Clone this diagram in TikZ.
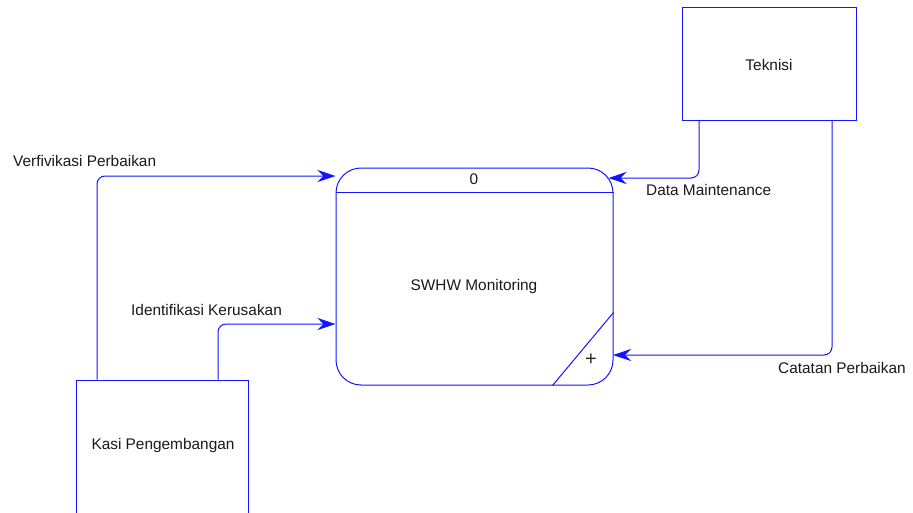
\documentclass[tikz,border=0pt]{standalone}
\usepackage{fontspec}
\setmainfont{Liberation Sans}
\usetikzlibrary{arrows.meta,calc}
\definecolor{dfdblue}{RGB}{20,20,255}
\tikzset{
  txt/.style={font=\fontsize{15.4}{18}\selectfont, inner sep=0pt, text=black!90},
  entity/.style={draw=dfdblue, line width=1pt, inner sep=0pt},
  procbox/.style={draw=dfdblue, line width=1pt, rounded corners=25pt, inner sep=0pt},
  flow/.style={draw=dfdblue, line width=1pt, rounded corners=8pt,
    -{Stealth[length=18pt, width=12pt, inset=6pt]}},
  thinline/.style={draw=dfdblue, line width=1pt}
}
\begin{document}
\begin{tikzpicture}[x=1pt, y=-1pt]
\useasboundingbox (0,0) rectangle (913,512);
% entities
\node[entity, minimum width=174pt, minimum height=113pt] (tek) at (769,63.5) {};
\node[txt] (tektext) at (769,65) {Teknisi};
\node[entity, minimum width=172pt, minimum height=150pt] (kasi) at (162.5,455) {};
\node[txt] (kasitext) at (163,446) {Kasi Pengembangan};
% process
\node[procbox, minimum width=277pt, minimum height=217pt] (proc) at (474.5,276.5) {};
\draw[thinline] (proc.west |- 0,192) -- (proc.east |- 0,192);
\draw[thinline] ([xshift=-61pt]proc.south east) -- ([yshift=73pt]proc.south east);
\node[txt] (pnum) at (474,179) {0};
\node[txt] (pname) at (474,287) {SWHW Monitoring};
\node[font=\fontsize{20}{20}\selectfont, inner sep=0pt, text=black!85] (plus) at (591,360) {+};
% flows
\draw[flow] ([xshift=-65.5pt]kasi.north) |- (proc.west |- 0,176);
\draw[flow] ([xshift=55.5pt]kasi.north) |- (proc.west |- 0,324);
\draw[flow] ([xshift=-70pt]tek.south) |- ([xshift=-5pt]proc.east |- 0,178);
\draw[flow] ([xshift=63pt]tek.south) |- ([xshift=-0.5pt]proc.east |- 0,355);
% labels
\node[txt, anchor=west] (l1) at (13,161) {Verfivikasi Perbaikan};
\node[txt, anchor=west] (l2) at (131,310) {Identifikasi Kerusakan};
\node[txt, anchor=west] (l3) at (646,190) {Data Maintenance};
\node[txt, anchor=west] (l4) at (778,368) {Catatan Perbaikan};
\end{tikzpicture}
\end{document}
